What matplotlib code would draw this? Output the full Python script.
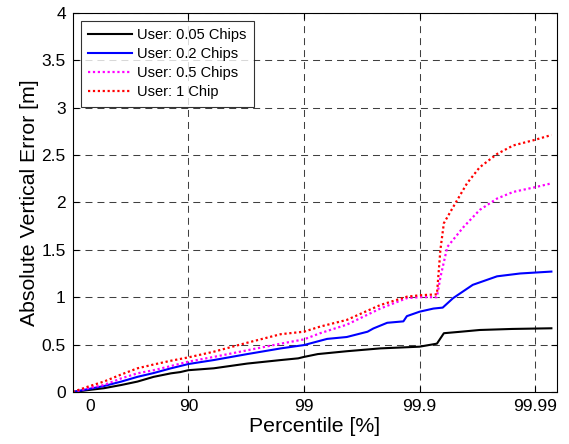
import numpy as np
import matplotlib
matplotlib.use('Agg')
import matplotlib.pyplot as plt

plt.rcParams['font.family'] = ['Liberation Sans', 'DejaVu Sans']

# x in "number of nines": -log10(1 - p/100)
x_005 = [0, 0.13, 0.27, 0.42, 0.56, 0.70, 0.85, 0.93, 1.0, 1.22, 1.51, 1.8, 1.95, 2.0, 2.12,
         2.37, 2.66, 3.0, 3.15, 3.21, 3.35, 3.52, 3.8, 4.14]
y_005 = [0, 0.02, 0.04, 0.074, 0.11, 0.16, 0.197, 0.21, 0.23, 0.25, 0.30, 0.337, 0.355, 0.37, 0.40,
         0.43, 0.46, 0.478, 0.51, 0.62, 0.635, 0.654, 0.665, 0.672]

x_02 = [0, 0.13, 0.27, 0.42, 0.56, 0.70, 0.85, 1.0, 1.22, 1.51, 1.8, 2.0, 2.2, 2.37, 2.55, 2.6,
        2.72, 2.86, 2.89, 3.0, 3.12, 3.2, 3.29, 3.46, 3.67, 3.87, 4.14]
y_02 = [0, 0.03, 0.063, 0.11, 0.16, 0.20, 0.25, 0.295, 0.337, 0.40, 0.46, 0.495, 0.56, 0.58, 0.636, 0.67,
        0.73, 0.745, 0.80, 0.847, 0.88, 0.89, 0.99, 1.13, 1.22, 1.25, 1.27]

x_05 = [0, 0.13, 0.27, 0.42, 0.56, 0.70, 0.85, 1.0, 1.22, 1.51, 1.8, 2.0, 2.14, 2.37, 2.66, 2.89,
        3.0, 3.15, 3.18, 3.24, 3.38, 3.52, 3.67, 3.81, 4.0, 4.14]
y_05 = [0, 0.04, 0.074, 0.144, 0.197, 0.23, 0.274, 0.32, 0.37, 0.44, 0.51, 0.555, 0.62, 0.71, 0.88, 0.99,
        1.0, 1.0, 1.21, 1.53, 1.74, 1.92, 2.04, 2.11, 2.16, 2.2]

x_1 = [0, 0.13, 0.27, 0.42, 0.56, 0.70, 0.85, 1.0, 1.22, 1.51, 1.8, 2.0, 2.14, 2.37, 2.66, 2.89,
       3.0, 3.15, 3.18, 3.21, 3.29, 3.41, 3.52, 3.67, 3.81, 4.0, 4.14]
y_1 = [0, 0.056, 0.11, 0.185, 0.25, 0.29, 0.33, 0.365, 0.425, 0.52, 0.61, 0.636, 0.69, 0.76, 0.917, 1.005,
       1.02, 1.03, 1.5, 1.78, 1.95, 2.2, 2.37, 2.51, 2.6, 2.66, 2.71]

tick_pos = [0.147, 1, 2, 3, 4]
tick_labels = ['0', '90', '99', '99.9', '99.99']

fig = plt.figure(figsize=(5.69, 4.44), dpi=100)
ax = fig.add_axes([0.1278, 0.1171, 0.8506, 0.8543])

dot = (0, (1, 1.2))
ax.plot(x_005, y_005, color='k', lw=1.5, label='User: 0.05 Chips')
ax.plot(x_02, y_02, color=(0, 0, 1), lw=1.5, label='User: 0.2 Chips')
ax.plot(x_05, y_05, color=(1, 0, 1), lw=1.6, ls=dot, label='User: 0.5 Chips')
ax.plot(x_1, y_1, color=(1, 0, 0), lw=1.6, ls=dot, label='User: 1 Chip')

ax.set_xlim(0, 4.186)
ax.set_ylim(0, 4)
ax.set_xticks(tick_pos)
ax.set_xticklabels(tick_labels)
ax.set_yticks(np.arange(0, 4.01, 0.5))
ax.set_yticklabels(['0', '0.5', '1', '1.5', '2', '2.5', '3', '3.5', '4'])
ax.tick_params(direction='in', length=4, width=0.8, labelsize=12.5, top=True, right=True, pad=5)

ax.grid(True, color='#404040', lw=0.75, ls=(0, (6.7, 4.8)))
ax.xaxis.get_gridlines()[0].set_visible(False)
ax.xaxis.get_major_ticks()[0].tick1line.set_visible(False)
ax.xaxis.get_major_ticks()[0].tick2line.set_visible(False)

for s in ax.spines.values():
    s.set_linewidth(0.8)

ax.set_xlabel('Percentile [%]', fontsize=15.3, labelpad=2)
ax.set_ylabel('Absolute Vertical Error [m]', fontsize=15.3, labelpad=1.5)

leg = ax.legend(loc='upper left', fontsize=10.5, frameon=True, fancybox=False,
                edgecolor='k', borderaxespad=0.55, handlelength=3.0, handletextpad=0.35,
                labelspacing=0.35, borderpad=0.5)
leg.get_frame().set_linewidth(0.8)

fig.savefig('out.png', dpi=100)
